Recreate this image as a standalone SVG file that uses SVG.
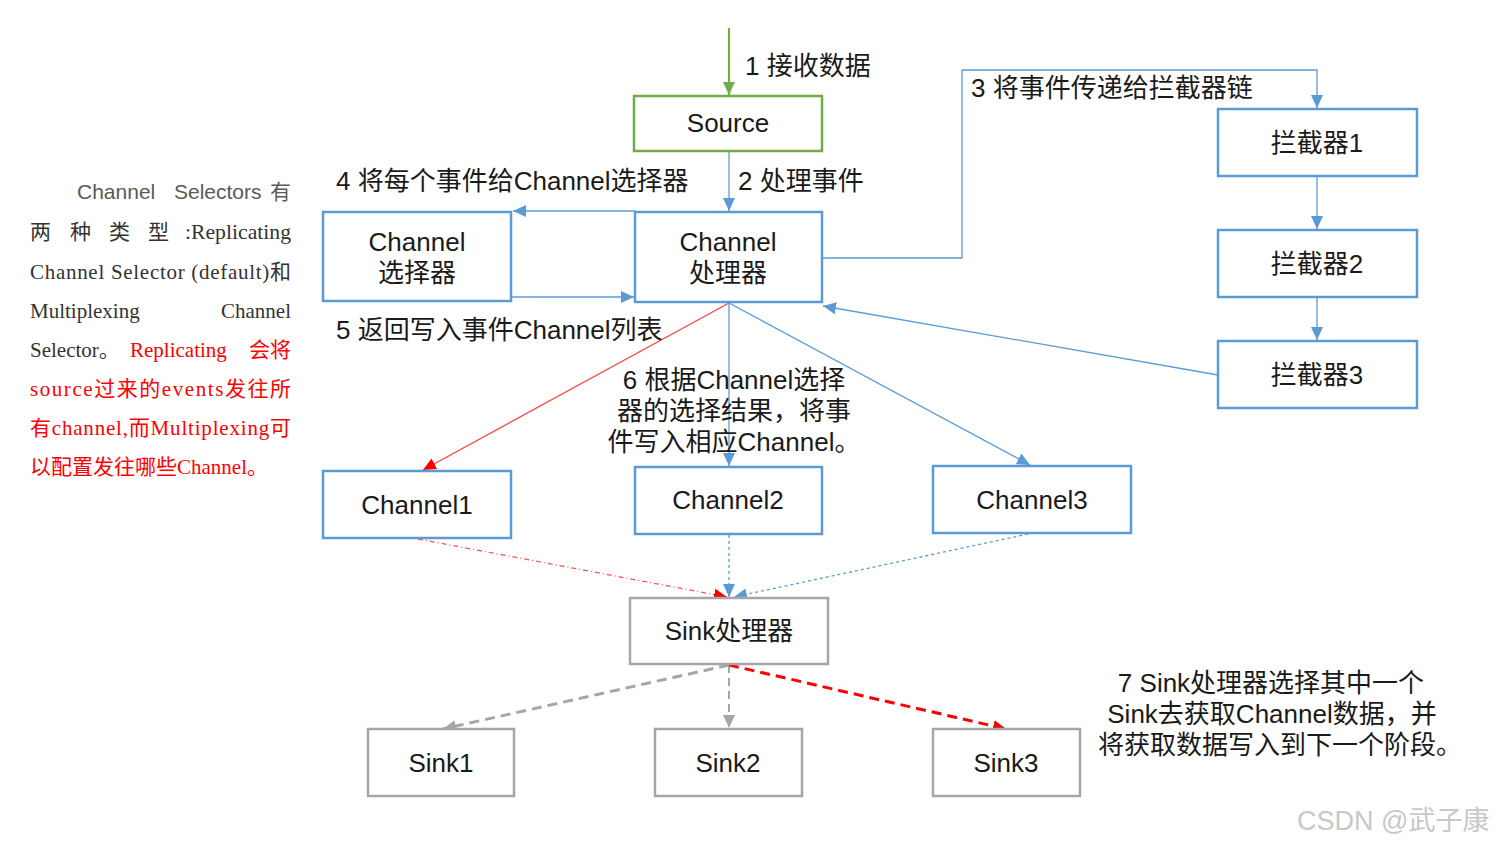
<svg xmlns="http://www.w3.org/2000/svg" width="1500" height="846" viewBox="0 0 1500 846">
<style>
.box{fill:#fff;stroke-width:2.5}
.b{stroke:#5b9bd5}
.g{stroke:#70ad47}
.s{stroke:#a6a6a6}
.t{font-family:"Liberation Sans","Noto Sans CJK SC",sans-serif;font-size:26px;fill:#1a1a1a}
.c{text-anchor:middle}
.p{font-family:"Liberation Serif","Noto Sans CJK SC",serif;font-size:21px;fill:#333}
.r{fill:#f00}
.ln{fill:none;stroke:#5b9bd5;stroke-width:1.3}
</style>
<defs>
<marker id="ab" markerUnits="userSpaceOnUse" markerWidth="14" markerHeight="14" viewBox="0 0 14 14" refX="13" refY="7" orient="auto"><path d="M0,1 L13,7 L0,13 Z" fill="#5b9bd5"/></marker>
<marker id="ar" markerUnits="userSpaceOnUse" markerWidth="14" markerHeight="14" viewBox="0 0 14 14" refX="13" refY="7" orient="auto"><path d="M0,1 L13,7 L0,13 Z" fill="#f00"/></marker>
<marker id="ag" markerUnits="userSpaceOnUse" markerWidth="14" markerHeight="14" viewBox="0 0 14 14" refX="13" refY="7" orient="auto"><path d="M0,1 L13,7 L0,13 Z" fill="#70ad47"/></marker>
<marker id="agr" markerUnits="userSpaceOnUse" markerWidth="14" markerHeight="14" viewBox="0 0 14 14" refX="13" refY="7" orient="auto"><path d="M0,1 L13,7 L0,13 Z" fill="#a6a6a6"/></marker>
</defs>
<rect width="1500" height="846" fill="#fff"/>

<g id="connectors">
<line x1="729" y1="28" x2="729" y2="95" stroke="#70ad47" stroke-width="2.2" marker-end="url(#ag)"/>
<line class="ln" x1="729" y1="152" x2="729" y2="211" marker-end="url(#ab)"/>
<line class="ln" x1="635" y1="211" x2="513" y2="211" marker-end="url(#ab)"/>
<line class="ln" x1="511" y1="297" x2="634" y2="297" marker-end="url(#ab)"/>
<polyline class="ln" points="822,258 962,258 962,70 1317,70 1317,108" marker-end="url(#ab)"/>
<line class="ln" x1="1317" y1="177" x2="1317" y2="229" marker-end="url(#ab)"/>
<line class="ln" x1="1317" y1="298" x2="1317" y2="340" marker-end="url(#ab)"/>
<line class="ln" x1="1218" y1="375" x2="823" y2="306" marker-end="url(#ab)"/>
<line x1="729" y1="303" x2="423" y2="470" stroke="#f44" stroke-width="1.3" marker-end="url(#ar)"/>
<line class="ln" x1="729" y1="303" x2="729" y2="466" marker-end="url(#ab)"/>
<line class="ln" x1="729" y1="303" x2="1030" y2="465" marker-end="url(#ab)"/>
<line x1="418" y1="539" x2="727" y2="597" stroke="#f55" stroke-width="1.3" stroke-dasharray="5,3,1,3" marker-end="url(#ar)"/>
<line x1="729" y1="535" x2="729" y2="597" stroke="#5b9bd5" stroke-width="1.3" stroke-dasharray="3,3" marker-end="url(#ab)"/>
<line x1="1028" y1="534" x2="734" y2="597" stroke="#5b9bd5" stroke-width="1.3" stroke-dasharray="3,3" marker-end="url(#ab)"/>
<line x1="729" y1="665" x2="443" y2="729" stroke="#a6a6a6" stroke-width="3" stroke-dasharray="10,6" marker-end="url(#agr)"/>
<line x1="729" y1="665" x2="729" y2="728" stroke="#a6a6a6" stroke-width="2" stroke-dasharray="8,5" marker-end="url(#agr)"/>
<line x1="729" y1="665" x2="1006" y2="729" stroke="#f00" stroke-width="3" stroke-dasharray="10,6" marker-end="url(#ar)"/>
</g>

<g id="labels">
<text class="t" x="745" y="75">1 接收数据</text>
<text class="t" x="738" y="190">2 处理事件</text>
<text class="t" x="336" y="190">4 将每个事件给Channel选择器</text>
<text class="t" x="336" y="339">5 返回写入事件Channel列表</text>
<text class="t" x="971" y="97">3 将事件传递给拦截器链</text>
<text class="t c" x="734" y="389">6 根据Channel选择</text>
<text class="t c" x="734" y="420">器的选择结果，将事</text>
<text class="t c" x="734" y="451">件写入相应Channel。</text>
<text class="t c" x="1271" y="692">7 Sink处理器选择其中一个</text>
<text class="t c" x="1272" y="723">Sink去获取Channel数据，并</text>
<text class="t c" x="1280" y="754">将获取数据写入到下一个阶段。</text>
<text x="1297" y="830" font-family="Liberation Sans,Noto Sans CJK SC,sans-serif" font-size="27" fill="#c8c8c8">CSDN @武子康</text>
</g>

<g id="note">
<text x="77" y="199" font-family="Liberation Sans,Noto Sans CJK SC,sans-serif" font-size="21" fill="#595959">Channel</text>
<text x="174" y="199" font-family="Liberation Sans,Noto Sans CJK SC,sans-serif" font-size="21" fill="#595959">Selectors</text>
<text x="291" y="199" font-family="Liberation Sans,Noto Sans CJK SC,sans-serif" font-size="21" fill="#595959" text-anchor="end">有</text>
<text class="p" x="30" y="239">两</text>
<text class="p" x="70" y="239">种</text>
<text class="p" x="109" y="239">类</text>
<text class="p" x="148" y="239">型</text>
<text class="p" x="185" y="239" textLength="106" lengthAdjust="spacingAndGlyphs">:Replicating</text>
<text class="p" x="30" y="279" textLength="261" lengthAdjust="spacing">Channel Selector (default)和</text>
<text class="p" x="30" y="318">Multiplexing</text>
<text class="p" x="291" y="318" text-anchor="end">Channel</text>
<text class="p" x="30" y="357">Selector。</text>
<text class="p r" x="130" y="357">Replicating</text>
<text class="p r" x="291" y="357" text-anchor="end">会将</text>
<text class="p r" x="30" y="396" textLength="261" lengthAdjust="spacing">source过来的events发往所</text>
<text class="p r" x="30" y="435" textLength="261" lengthAdjust="spacing">有channel,而Multiplexing可</text>
<text class="p r" x="30" y="474">以配置发往哪些Channel。</text>
</g>

<g id="source"><rect class="box g" x="634" y="96" width="188" height="55"/><text class="t c" x="728" y="132">Source</text></g>
<g id="channel-processor"><rect class="box b" x="635" y="212" width="187" height="90"/><text class="t c" x="728" y="251">Channel</text><text class="t c" x="728" y="282">处理器</text></g>
<g id="channel-selector"><rect class="box b" x="323" y="212" width="188" height="89"/><text class="t c" x="417" y="251">Channel</text><text class="t c" x="417" y="282">选择器</text></g>
<g id="interceptor1"><rect class="box b" x="1218" y="109" width="199" height="67"/><text class="t c" x="1317" y="152">拦截器1</text></g>
<g id="interceptor2"><rect class="box b" x="1218" y="230" width="199" height="67"/><text class="t c" x="1317" y="273">拦截器2</text></g>
<g id="interceptor3"><rect class="box b" x="1218" y="341" width="199" height="67"/><text class="t c" x="1317" y="384">拦截器3</text></g>
<g id="channel1"><rect class="box b" x="323" y="471" width="188" height="67"/><text class="t c" x="417" y="514">Channel1</text></g>
<g id="channel2"><rect class="box b" x="635" y="467" width="187" height="67"/><text class="t c" x="728" y="509">Channel2</text></g>
<g id="channel3"><rect class="box b" x="933" y="466" width="198" height="67"/><text class="t c" x="1032" y="509">Channel3</text></g>
<g id="sink-processor"><rect class="box s" x="630" y="598" width="198" height="66"/><text class="t c" x="729" y="640">Sink处理器</text></g>
<g id="sink1"><rect class="box s" x="368" y="729" width="146" height="67"/><text class="t c" x="441" y="772">Sink1</text></g>
<g id="sink2"><rect class="box s" x="655" y="729" width="147" height="67"/><text class="t c" x="728" y="772">Sink2</text></g>
<g id="sink3"><rect class="box s" x="933" y="729" width="147" height="67"/><text class="t c" x="1006" y="772">Sink3</text></g>
</svg>
